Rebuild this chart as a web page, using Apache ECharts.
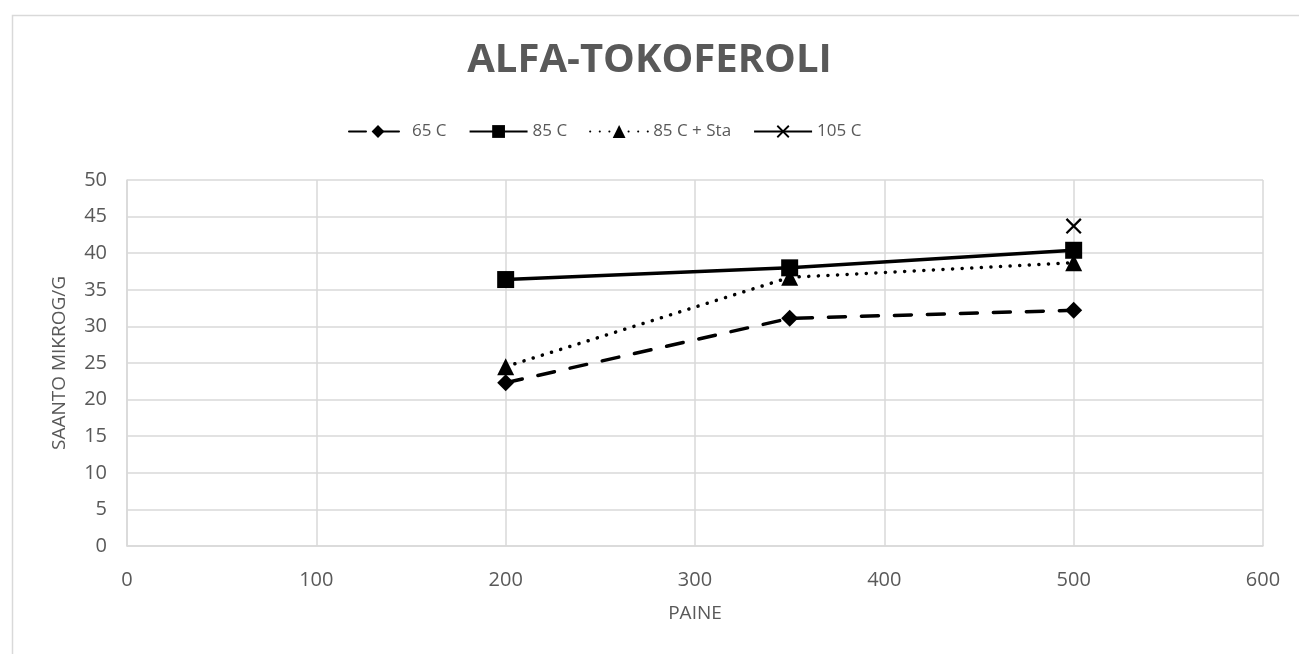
<!DOCTYPE html>
<html>
<head>
<meta charset="utf-8">
<script src="https://cdn.jsdelivr.net/npm/echarts@6/dist/echarts.min.js"></script>
<style>html,body{margin:0;padding:0;background:#fff;}#c{width:1299px;height:654px;}</style>
</head>
<body>
<div id="c"></div>
<script>
var titleText = 'ALFA-TOKOFEROLI';
var xName = 'PAINE';
var yName = 'SAANTO MIKROG/G';
var seriesNames = ['65 C', '85 C', '85 C + Sta', '105 C'];
var pressures = [200, 350, 500];
var s65 = [22.3, 31.1, 32.2];
var s85 = [36.4, 38.0, 40.4];
var s85sta = [24.5, 36.7, 38.7];
var p105 = [500];
var s105 = [43.7];

function pairs(xs, ys) { return xs.map(function (x, i) { return [x, ys[i]]; }); }

var FONT = 'Open Sans';
var GREY = '#595959';
var xPath = 'path://M0,1 L1,0 L10,9 L9,10 Z M9,0 L10,1 L1,10 L0,9 Z';

var chart = echarts.init(document.getElementById('c'), null, { renderer: 'canvas' });
chart.setOption({
  animation: false,
  backgroundColor: '#fff',
  graphic: [{
    type: 'rect', left: 10, top: 13, shape: { x: 0, y: 0, width: 1400, height: 700 },
    style: { fill: 'none', stroke: '#d9d9d9', lineWidth: 1.5 }, silent: true, z: -1
  }],
  title: {
    text: titleText, left: 'center', top: 36,
    textStyle: { fontFamily: FONT, fontWeight: 'bold', fontSize: 40, color: GREY }
  },
  legend: {
    top: 118, left: 343, itemWidth: 58, itemHeight: 16, itemGap: 22,
    textStyle: { fontFamily: FONT, fontSize: 17, color: GREY },
    data: seriesNames
  },
  grid: { left: 127, right: 36, top: 180, bottom: 108, containLabel: false },
  xAxis: {
    type: 'value', min: 0, max: 600, interval: 100,
    name: xName, nameLocation: 'middle', nameGap: 58,
    nameTextStyle: { fontFamily: FONT, fontSize: 19, color: GREY },
    axisLine: { show: true, lineStyle: { color: '#d9d9d9', width: 1.5 } },
    axisTick: { show: false },
    axisLabel: { fontFamily: FONT, fontSize: 20, color: GREY, margin: 24 },
    splitLine: { show: true, lineStyle: { color: '#d9d9d9', width: 1.5 } }
  },
  yAxis: {
    type: 'value', min: 0, max: 50, interval: 5,
    name: yName, nameLocation: 'middle', nameGap: 58, nameRotate: 90,
    nameTextStyle: { fontFamily: FONT, fontSize: 19, color: GREY },
    axisLine: { show: true, lineStyle: { color: '#d9d9d9', width: 1.5 } },
    axisTick: { show: false },
    axisLabel: { fontFamily: FONT, fontSize: 20, color: GREY, margin: 20 },
    splitLine: { show: true, lineStyle: { color: '#d9d9d9', width: 1.5 } }
  },
  series: [
    {
      name: seriesNames[0], type: 'line', data: pairs(pressures, s65),
      symbol: 'diamond', symbolSize: 17,
      lineStyle: { color: '#000', width: 3.5, type: [17, 16], cap: 'round' },
      itemStyle: { color: '#000' }
    },
    {
      name: seriesNames[1], type: 'line', data: pairs(pressures, s85),
      symbol: 'rect', symbolSize: 17,
      lineStyle: { color: '#000', width: 3.5, type: 'solid' },
      itemStyle: { color: '#000' }
    },
    {
      name: seriesNames[2], type: 'line', data: pairs(pressures, s85sta),
      symbol: 'triangle', symbolSize: 17,
      lineStyle: { color: '#000', width: 3.5, type: [0.1, 9.5], cap: 'round' },
      itemStyle: { color: '#000' }
    },
    {
      name: seriesNames[3], type: 'line', data: pairs(p105, s105),
      symbol: xPath, symbolSize: 16,
      lineStyle: { color: '#000', width: 3.5, type: 'solid' },
      itemStyle: { color: '#000' }
    }
  ]
});
</script>
</body>
</html>
